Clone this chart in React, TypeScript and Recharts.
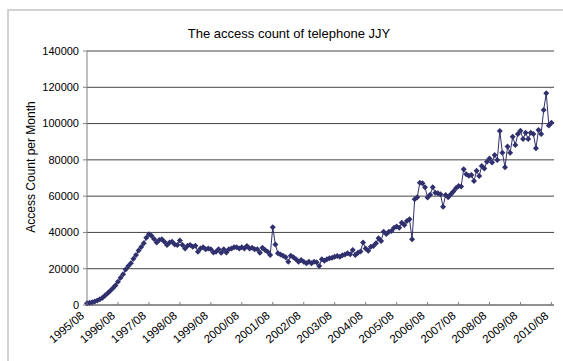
import { LineChart, Line, XAxis, YAxis, CartesianGrid } from 'recharts';

// tick labels, one per year (every 12th month)
const yearLabels = [
  '1995/08', '1996/08', '1997/08', '1998/08', '1999/08', '2000/08', '2001/08', '2002/08',
  '2003/08', '2004/08', '2005/08', '2006/08', '2007/08', '2008/08', '2009/08', '2010/08',
];

// monthly access counts, each array starts at an August
const span1995 = [900, 1200, 1500, 1900, 2500, 3200, 4000, 5200, 6500, 7800, 9300, 10800];
const span1996 = [12800, 15000, 17000, 19500, 21500, 23000, 25500, 27500, 30000, 32000, 34000, 37000];
const span1997 = [39000, 38200, 36400, 34500, 35800, 36200, 34900, 33100, 34500, 34900, 33400, 33100];
const span1998 = [35500, 33100, 31200, 32700, 33100, 32100, 32700, 29400, 31200, 31800, 30700, 31200];
const span1999 = [30700, 29000, 29400, 30700, 28800, 30700, 29000, 30700, 31200, 31800, 31800, 31200];
const span2000 = [31800, 31200, 32500, 31200, 31500, 30700, 30700, 28800, 31600, 30300, 29400, 27600];
const span2001 = [42800, 33400, 28500, 27900, 27200, 26300, 23900, 27200, 26300, 25200, 23900, 24800];
const span2002 = [23900, 23000, 23900, 23000, 23900, 23500, 21500, 25200, 24400, 25200, 25700, 26100];
const span2003 = [26600, 27000, 26600, 27400, 27900, 28500, 28000, 30300, 27600, 28800, 29500, 34500];
const span2004 = [31200, 29900, 32100, 32500, 34000, 36800, 35300, 40400, 39100, 40400, 40800, 42600];
const span2005 = [43200, 42600, 45400, 44100, 46300, 47200, 36200, 58300, 59400, 67400, 67100, 64900];
const span2006 = [59300, 60800, 64900, 61900, 61600, 61000, 54200, 60600, 59400, 61000, 62500, 64300];
const span2007 = [65600, 65300, 74800, 72000, 71300, 71700, 68400, 74000, 71100, 76600, 75300, 79000];
const span2008 = [80700, 78500, 82700, 79900, 95900, 83900, 75900, 87300, 83900, 92800, 88200, 94300];
const span2009 = [96100, 91500, 95000, 91500, 95000, 94300, 86400, 96500, 94300, 107500, 116700, 99000];
const span2010 = [100500];

const yTicks = [0, 20000, 40000, 60000, 80000, 100000, 120000, 140000];

const counts = [
  ...span1995, ...span1996, ...span1997, ...span1998, ...span1999, ...span2000,
  ...span2001, ...span2002, ...span2003, ...span2004, ...span2005, ...span2006,
  ...span2007, ...span2008, ...span2009, ...span2010,
];
const chartData = counts.map((v, i) => ({ m: i, count: v }));
const monthTicks = yearLabels.map((_, i) => i * 12);

const NAVY = '#30306e';
const FONT = '"Liberation Sans", Arial, sans-serif';

const Diamond = (props: any) => {
  const { cx, cy, index } = props;
  if (cx == null || cy == null) return <g key={index} />;
  return (
    <path
      key={index}
      d={`M${cx},${cy - 3}L${cx + 3},${cy}L${cx},${cy + 3}L${cx - 3},${cy}Z`}
      fill={NAVY}
    />
  );
};

const XTick = (props: any) => {
  const { x, y, payload } = props;
  const label = yearLabels[Math.round(payload.value / 12)];
  const ax = x - 2;
  const ay = y + 12;
  return (
    <g>
      <line x1={x} y1={y} x2={x} y2={y - 3} stroke="#808080" />
      <text
        x={ax}
        y={ay}
        transform={`rotate(-40, ${ax}, ${ay})`}
        textAnchor="end"
        fontSize={11.5}
        fontFamily={FONT}
        fill="#000"
      >
        {label}
      </text>
    </g>
  );
};

const YLabel = () => (
  <text
    x={31}
    y={167}
    transform="rotate(-90, 31, 167)"
    textAnchor="middle"
    dominantBaseline="central"
    fontSize={12}
    fontFamily={FONT}
    fill="#000"
  >
    Access Count per Month
  </text>
);

export default function App() {
  return (
    <div
      style={{
        position: 'absolute',
        left: 0,
        top: 0,
        width: 563,
        height: 361,
        overflow: 'hidden',
        background: '#fff',
      }}
    >
      <div
        style={{
          position: 'absolute',
          left: 7,
          top: 9,
          width: 600,
          height: 400,
          borderTop: '2px solid #d2d2d2',
          borderLeft: '2px solid #d2d2d2',
        }}
      />
      <div
        style={{
          position: 'absolute',
          left: 0,
          top: 26,
          width: 578,
          textAlign: 'center',
          fontSize: 13,
          lineHeight: '16px',
          fontFamily: FONT,
          color: '#000',
        }}
      >
        The access count of telephone JJY
      </div>
      <div style={{ position: 'absolute', left: 0, top: 0 }}>
        <LineChart
          width={563}
          height={361}
          data={chartData}
          margin={{ top: 51, right: 9, bottom: 0, left: 27 }}
        >
          <CartesianGrid vertical={false} stroke="#444" />
          <XAxis
            dataKey="m"
            type="number"
            domain={[0, 181]}
            ticks={monthTicks}
            interval={0}
            height={56}
            tickSize={0}
            tickMargin={0}
            tickLine={false}
            axisLine={{ stroke: '#808080' }}
            tick={<XTick />}
          />
          <YAxis
            width={60}
            domain={[0, 140000]}
            ticks={yTicks}
            interval={0}
            tickSize={4}
            tickMargin={4}
            axisLine={{ stroke: '#808080' }}
            tickLine={{ stroke: '#808080' }}
            tick={{ fontSize: 11, fill: '#000', fontFamily: FONT }}
            label={<YLabel />}
          />
          <Line
            type="linear"
            dataKey="count"
            stroke={NAVY}
            strokeWidth={1}
            dot={Diamond}
            activeDot={false}
            isAnimationActive={false}
          />
        </LineChart>
      </div>
    </div>
  );
}
